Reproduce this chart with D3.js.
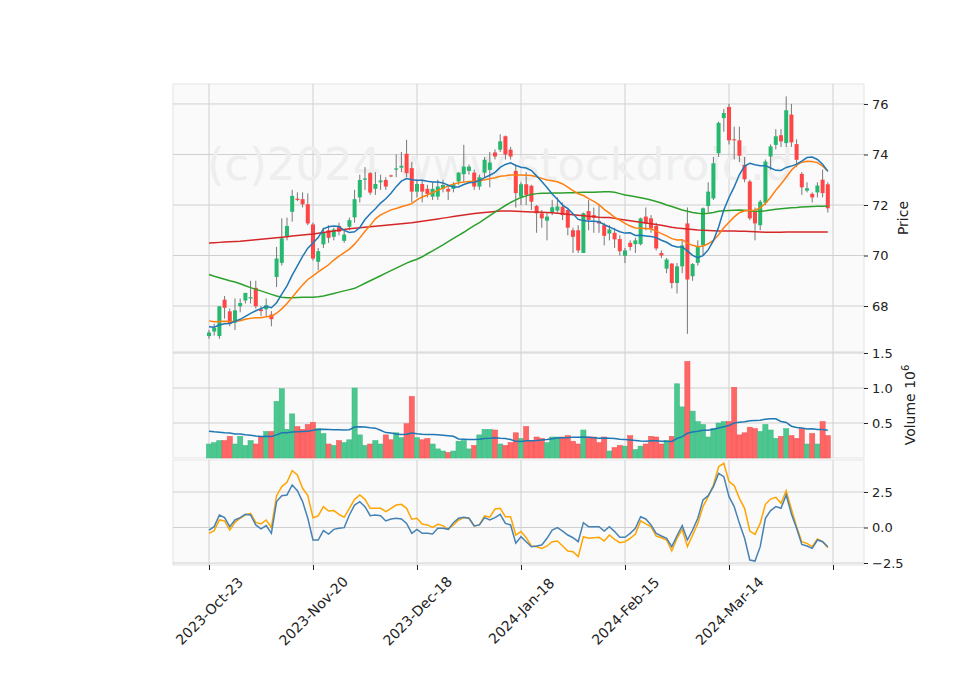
<!DOCTYPE html>
<html>
<head>
<meta charset="utf-8">
<script src="https://cdn.jsdelivr.net/npm/d3@7"></script>
<style>
  body { margin: 0; background: #fff; }
  text { font-family: "DejaVu Sans", sans-serif; }
</style>
</head>
<body>
<div id="chart"></div>
<script>
// candles, one per trading day (open, high, low, close)
const opens = [66.81,66.99,66.81,68.25,67.79,67.34,67.99,68.22,68.3,68.72,
  67.87,67.87,67.66,69.15,69.71,70.74,71.73,72.25,72.23,72.03,
  71.23,69.75,70.44,71.0,70.74,71.17,70.58,71.14,71.51,72.3,
  73.0,73.26,72.64,72.9,72.99,73.17,73.4,73.48,74.03,73.46,
  72.53,72.83,72.64,72.33,72.33,72.64,72.64,72.64,72.93,73.22,
  73.35,73.28,72.73,73.28,73.39,74.08,74.19,74.72,74.19,73.35,
  72.33,72.82,72.76,71.96,71.67,71.38,71.71,71.78,71.93,71.8,
  71.0,71.0,70.1,71.76,71.6,71.36,71.2,70.87,70.9,70.65,
  69.99,70.5,70.45,70.45,71.54,71.47,71.17,70.1,69.48,69.68,
  68.91,69.57,71.27,69.18,69.71,70.41,71.96,72.26,74.05,75.44,
  75.88,74.6,74.56,73.59,72.93,71.74,71.2,72.09,73.92,74.38,
  74.76,74.45,75.58,74.41,73.23,72.57,72.44,72.5,73.0,72.82];
const highs = [67.05,67.3,68.0,68.4,67.9,68.3,68.3,68.5,69.0,69.0,
  68.0,68.3,67.8,70.34,71.47,71.5,72.6,72.5,72.5,72.46,
  71.3,70.3,71.1,71.2,71.1,71.3,71.0,71.5,72.6,73.2,
  73.5,73.3,73.3,73.2,73.1,73.2,74.0,74.1,74.58,73.7,
  73.0,73.0,72.8,72.9,73.0,73.0,72.8,72.9,73.3,74.38,
  73.6,73.4,73.2,73.9,74.1,74.2,74.8,74.75,74.3,73.6,
  72.9,73.3,72.8,72.0,71.8,71.7,72.2,72.3,72.1,71.9,
  71.1,71.2,71.7,72.2,71.9,72.0,71.3,71.2,71.1,70.8,
  70.3,70.6,70.7,71.5,71.9,71.6,71.3,70.2,69.9,69.7,
  69.7,70.6,71.9,69.7,70.6,71.9,72.9,73.9,75.3,75.8,
  76.0,75.1,75.1,73.9,73.0,71.9,72.2,73.8,74.4,75.0,
  75.0,76.3,76.0,74.6,73.3,72.9,72.5,72.9,73.4,72.9];
const lows = [66.7,66.83,66.7,67.5,67.2,67.05,67.75,68.1,68.1,67.9,
  67.6,67.6,67.2,68.75,69.6,70.6,71.34,72.15,71.9,71.2,
  69.8,69.42,70.3,70.5,70.6,70.8,70.5,71.0,71.3,72.1,
  72.6,72.4,72.4,72.6,72.6,73.1,73.1,73.3,73.1,72.1,
  72.3,72.1,72.3,72.2,72.2,72.5,72.2,72.5,72.8,72.9,
  73.2,72.6,72.6,73.1,72.7,73.8,74.1,73.8,73.8,71.9,
  72.0,72.0,71.8,70.9,71.1,70.6,71.6,71.7,71.4,70.8,
  70.1,70.1,70.1,71.0,70.9,70.9,70.4,70.6,70.3,70.0,
  69.7,70.2,70.1,70.4,71.0,70.9,70.2,69.9,69.3,68.7,
  68.5,69.3,66.9,69.0,69.6,70.0,71.7,72.2,73.9,74.9,
  74.4,73.8,73.7,72.9,71.4,70.6,71.0,72.0,73.4,74.2,
  74.3,74.3,74.3,73.5,72.4,72.5,72.1,72.3,72.3,71.7];
const closes = [66.95,67.13,67.99,67.93,67.3,67.83,68.12,68.52,68.35,67.99,
  67.8,68.03,67.48,69.88,70.68,71.17,72.36,72.2,72.03,71.27,
  69.88,70.17,70.91,70.7,71.03,70.94,70.83,71.4,72.23,72.99,
  73.05,72.49,72.83,72.97,72.73,73.13,73.45,73.55,73.26,72.53,
  72.83,72.53,72.44,72.64,72.73,72.79,72.53,72.83,73.28,73.52,
  73.52,72.73,73.1,73.79,73.68,73.92,74.52,74.0,73.92,72.47,
  72.82,72.4,72.13,71.67,71.47,71.54,71.91,71.94,71.6,71.1,
  70.74,70.2,71.67,71.41,71.5,71.27,70.78,71.03,70.64,70.17,
  70.2,70.34,70.6,71.47,71.27,71.07,70.28,70.0,69.84,68.91,
  69.57,70.4,69.05,69.66,70.38,71.87,72.53,73.65,75.25,75.64,
  74.56,74.56,73.95,73.02,71.47,71.27,72.13,73.72,74.32,74.72,
  74.52,75.75,74.48,73.79,72.7,72.66,72.3,72.77,72.47,71.87];
// closes before the first visible day (feed the short averages)
const priorCloses = [67.9,67.7,67.8,67.5,67.6,67.7,67.4,67.6,67.5,67.8,
  67.3,67.1,67.4,67.2,67.0,67.3,67.4,67.1,67.0];

// volume in millions
const volumes = [0.20,0.22,0.25,0.25,0.31,0.20,0.31,0.18,0.25,0.20,
  0.30,0.38,0.38,0.81,0.99,0.41,0.63,0.45,0.41,0.48,
  0.51,0.42,0.35,0.20,0.18,0.25,0.22,0.26,1.00,0.33,
  0.18,0.20,0.25,0.20,0.33,0.26,0.36,0.29,0.49,0.88,
  0.29,0.26,0.28,0.20,0.13,0.10,0.08,0.10,0.24,0.25,
  0.13,0.18,0.33,0.41,0.41,0.40,0.20,0.18,0.22,0.36,
  0.28,0.45,0.25,0.30,0.28,0.22,0.30,0.30,0.30,0.32,
  0.24,0.20,0.40,0.30,0.30,0.22,0.30,0.10,0.15,0.18,
  0.17,0.32,0.12,0.17,0.20,0.31,0.30,0.20,0.25,0.31,
  1.06,0.73,1.38,0.67,0.52,0.48,0.30,0.42,0.50,0.52,
  0.52,1.01,0.33,0.36,0.44,0.42,0.38,0.48,0.40,0.28,
  0.31,0.42,0.32,0.28,0.42,0.20,0.35,0.20,0.52,0.32];
const priorVolumes = [0.40,0.35,0.45,0.38,0.42,0.36,0.40,0.37,0.44,0.39,
  0.35,0.41,0.38,0.40,0.36,0.43,0.39,0.37,0.41];

// slow averages
const ma50 = [69.25,69.18,69.12,69.06,69.0,68.95,68.88,68.8,68.73,68.66,
  68.6,68.53,68.46,68.4,68.35,68.33,68.33,68.34,68.35,68.35,
  68.35,68.37,68.4,68.45,68.5,68.55,68.6,68.65,68.7,68.8,
  68.9,69.0,69.1,69.2,69.3,69.4,69.5,69.6,69.7,69.78,
  69.85,69.95,70.07,70.18,70.3,70.42,70.55,70.68,70.8,70.92,
  71.05,71.18,71.3,71.44,71.58,71.72,71.85,71.98,72.1,72.2,
  72.3,72.36,72.42,72.45,72.46,72.46,72.47,72.47,72.47,72.48,
  72.48,72.49,72.5,72.5,72.5,72.51,72.52,72.52,72.5,72.45,
  72.4,72.37,72.33,72.29,72.25,72.2,72.14,72.08,72.0,71.94,
  71.87,71.8,71.75,71.7,71.67,71.65,71.67,71.7,71.75,71.77,
  71.78,71.79,71.8,71.79,71.77,71.75,71.75,71.77,71.8,71.83,
  71.85,71.87,71.89,71.9,71.92,71.93,71.94,71.95,71.95,71.96];
const ma200 = [70.5,70.51,70.52,70.53,70.54,70.55,70.56,70.58,70.6,70.62,
  70.64,70.66,70.68,70.7,70.72,70.74,70.77,70.79,70.81,70.83,
  70.85,70.88,70.91,70.94,70.97,71.0,71.03,71.06,71.08,71.1,
  71.12,71.14,71.16,71.18,71.2,71.22,71.24,71.26,71.28,71.3,
  71.33,71.36,71.39,71.42,71.45,71.48,71.51,71.54,71.57,71.6,
  71.63,71.66,71.68,71.7,71.72,71.74,71.76,71.76,71.76,71.75,
  71.74,71.73,71.72,71.72,71.71,71.7,71.69,71.67,71.65,71.63,
  71.61,71.59,71.57,71.55,71.53,71.51,71.5,71.5,71.47,71.44,
  71.41,71.38,71.35,71.32,71.29,71.26,71.23,71.2,71.16,71.12,
  71.09,71.07,71.05,71.03,71.01,71.0,70.99,70.98,70.97,70.97,
  70.97,70.97,70.96,70.96,70.95,70.94,70.93,70.92,70.92,70.92,
  70.92,70.93,70.93,70.93,70.93,70.93,70.93,70.93,70.93,70.93];

// lower panel oscillator lines
const oscBlue = [-0.18,0.06,0.88,0.69,0.06,0.53,0.69,0.93,0.88,0.18,
  -0.1,0.13,-0.41,1.82,2.24,2.29,2.99,2.59,1.82,0.65,
  -0.88,-0.88,-0.22,-0.46,-0.13,-0.06,-0.01,0.88,1.58,1.82,
  1.47,0.83,0.88,0.83,0.46,0.6,0.65,0.6,0.29,-0.41,
  -0.13,-0.41,-0.41,-0.46,-0.06,-0.06,-0.13,0.34,0.65,0.72,
  0.65,0.11,0.18,0.69,0.53,0.69,0.93,0.29,0.18,-1.1,
  -0.65,-1.0,-1.35,-1.3,-1.23,-0.76,-0.18,-0.01,-0.25,-0.53,
  -0.72,-1.0,0.34,0.06,0.06,0.06,-0.25,0.06,-0.29,-0.69,
  -0.69,-0.41,-0.06,0.76,0.6,0.18,-0.41,-0.6,-0.76,-1.35,
  -0.58,0.13,-0.88,-0.18,0.65,1.94,2.24,2.88,3.81,3.58,
  2.17,1.47,0.29,-0.76,-2.29,-2.36,-1.35,0.65,1.19,1.47,
  1.35,2.29,0.95,-0.06,-1.19,-1.3,-1.47,-0.88,-1.0,-1.35];
const oscOrange = [-0.41,-0.22,0.53,0.46,-0.18,0.36,0.65,0.88,1.0,0.36,
  0.25,0.53,0.0,2.24,2.88,3.18,4.0,3.7,2.76,2.24,
  0.69,0.81,1.47,1.16,1.19,0.93,0.72,1.35,1.98,2.29,
  1.98,1.35,1.35,1.35,1.12,1.35,1.58,1.63,1.35,0.58,
  0.65,0.25,0.18,0.01,0.22,0.13,-0.13,0.18,0.53,0.69,
  0.65,0.11,0.18,0.81,0.72,1.3,1.35,0.76,0.76,-0.53,
  -0.29,-0.72,-1.3,-1.35,-1.47,-1.3,-1.0,-0.95,-1.3,-1.65,
  -1.7,-2.05,-0.65,-0.76,-0.72,-0.69,-0.95,-0.53,-0.83,-1.07,
  -1.0,-0.76,-0.46,0.46,0.25,0.06,-0.6,-0.72,-0.88,-1.65,
  -0.76,-0.13,-1.35,-0.53,0.29,1.47,2.17,2.99,4.28,4.52,
  3.23,2.95,2.05,1.35,-0.25,-0.48,0.29,1.63,2.0,2.12,
  1.7,2.59,1.28,0.06,-1.0,-1.12,-1.35,-0.81,-1.0,-1.42];

const tickIdx = [0, 20, 40, 60, 80, 100, 120];
const tickLabels = ["2023-Oct-23", "2023-Nov-20", "2023-Dec-18", "2024-Jan-18", "2024-Feb-15", "2024-Mar-14", ""];
const priceTicks = [68, 70, 72, 74, 76];
const volTicks = [0.5, 1.0, 1.5];
const oscTicks = [-2.5, 0.0, 2.5];

const W = 960, H = 690;
const left = 173, right = 864;
const panels = {
  price: { top: 84, bottom: 352 },
  vol: { top: 352, bottom: 458 },
  osc: { top: 460, bottom: 565 }
};

const svg = d3.select("#chart").append("svg").attr("width", W).attr("height", H);

const x = d3.scaleLinear().domain([-6.92, 125.96]).range([left, right]);
const yP = d3.scaleLinear().domain([66.18, 76.79]).range([panels.price.bottom, panels.price.top]);
const yV = d3.scaleLinear().domain([0, 1.514]).range([panels.vol.bottom, panels.vol.top]);
const yO = d3.scaleLinear().domain([-2.64, 4.75]).range([panels.osc.bottom, panels.osc.top]);

function sma(vals, prior, n) {
  const all = prior.concat(vals);
  return vals.map((_, i) => {
    const j = i + prior.length;
    return d3.mean(all.slice(Math.max(0, j - n + 1), j + 1));
  });
}
const ma10 = sma(closes, priorCloses, 10);
const ma20 = sma(closes, priorCloses, 20);
const volMa = sma(volumes, priorVolumes, 20);

const idx = d3.range(closes.length);
const up = i => closes[i] >= opens[i];

// panel backgrounds + grids
function panel(p, yScale, ticks, fmt) {
  const g = svg.append("g");
  g.append("rect").attr("x", left).attr("y", p.top)
    .attr("width", right - left).attr("height", p.bottom - p.top)
    .attr("fill", "#fafafa").attr("stroke", "#e4e4e4");
  g.selectAll(".vg").data(tickIdx).enter().append("line")
    .attr("x1", d => x(d)).attr("x2", d => x(d))
    .attr("y1", p.top).attr("y2", p.bottom)
    .attr("stroke", "#d0d0d0").attr("stroke-width", 1);
  g.selectAll(".hg").data(ticks).enter().append("line")
    .attr("x1", left).attr("x2", right)
    .attr("y1", d => yScale(d)).attr("y2", d => yScale(d))
    .attr("stroke", "#d0d0d0").attr("stroke-width", 1);
  const ax = d3.axisRight(yScale).tickValues(ticks).tickFormat(fmt).tickSize(4).tickPadding(4);
  const a = svg.append("g").attr("transform", `translate(${right},0)`).call(ax);
  a.select(".domain").remove();
  a.selectAll("text").attr("font-size", 13).attr("fill", "#222");
  a.selectAll("line").attr("stroke", "#222");
}
panel(panels.price, yP, priceTicks, d3.format("d"));
panel(panels.vol, yV, volTicks, d3.format(".1f"));
panel(panels.osc, yO, oscTicks, d => d === 0 ? "0.0" : (d < 0 ? "\u2212" + Math.abs(d).toFixed(1) : d.toFixed(1)));

// watermark
svg.append("clipPath").attr("id", "pclip").append("rect")
  .attr("x", left).attr("y", panels.price.top).attr("width", right - left).attr("height", panels.price.bottom - panels.price.top);
svg.append("text").attr("x", 207).attr("y", 180)
  .attr("font-size", 45).attr("fill", "#eeeeee")
  .attr("clip-path", "url(#pclip)")
  .text("(c)2024 www.stockdroid.d");

// candles
const pc = svg.append("g").attr("clip-path", "url(#pclip)");
pc.selectAll(".wick").data(idx).enter().append("line")
  .attr("x1", i => x(i)).attr("x2", i => x(i))
  .attr("y1", i => yP(highs[i])).attr("y2", i => yP(lows[i]))
  .attr("stroke", "#555").attr("stroke-width", 0.8);
pc.selectAll(".body").data(idx).enter().append("rect")
  .attr("x", i => x(i) - 2).attr("width", 4)
  .attr("y", i => yP(Math.max(opens[i], closes[i])))
  .attr("height", i => Math.max(1, Math.abs(yP(opens[i]) - yP(closes[i]))))
  .attr("fill", i => up(i) ? "#26b86e" : "#ff4545");

const line = (yS, arr) => d3.line().x((d, i) => x(i)).y(d => yS(d))(arr);
[[ma200, "#d62728"], [ma50, "#2ca02c"], [ma20, "#ff7f0e"], [ma10, "#1f77b4"]].forEach(([arr, c]) => {
  pc.append("path").attr("d", line(yP, arr)).attr("fill", "none")
    .attr("stroke", c).attr("stroke-width", 1.5);
});

// volume
svg.append("g").selectAll("rect").data(idx).enter().append("rect")
  .attr("x", i => x(i) - 2.6).attr("width", 5.2)
  .attr("y", i => yV(volumes[i])).attr("height", i => yV(0) - yV(volumes[i]))
  .attr("fill", i => up(i) ? "#4cc790" : "#ff6666")
  .attr("stroke", i => up(i) ? "#3dbb82" : "#f05555").attr("stroke-width", 0.5);
svg.append("path").attr("d", line(yV, volMa)).attr("fill", "none")
  .attr("stroke", "#1f77b4").attr("stroke-width", 1.5);

// oscillator
svg.append("path").attr("d", line(yO, oscOrange)).attr("fill", "none")
  .attr("stroke", "orange").attr("stroke-width", 1.5);
svg.append("path").attr("d", line(yO, oscBlue)).attr("fill", "none")
  .attr("stroke", "steelblue").attr("stroke-width", 1.5);

// x axis
const xa = svg.append("g").attr("transform", `translate(0,${panels.osc.bottom})`)
  .call(d3.axisBottom(x).tickValues(tickIdx).tickFormat((d, i) => tickLabels[i]).tickSize(5).tickPadding(3));
xa.select(".domain").remove();
xa.selectAll("line").attr("stroke", "#222");
xa.selectAll("text").attr("font-size", 14).attr("fill", "#222")
  .attr("text-anchor", "middle").attr("x", 0).attr("y", 0).attr("dy", "0.35em")
  .attr("transform", "translate(0,46) rotate(-45)");

// axis titles
svg.append("text").attr("transform", "translate(908,218) rotate(-90)")
  .attr("text-anchor", "middle").attr("font-size", 14).attr("fill", "#222").text("Price");
const vt = svg.append("text").attr("transform", "translate(915,405) rotate(-90)")
  .attr("text-anchor", "middle").attr("font-size", 14).attr("fill", "#222");
vt.append("tspan").text("Volume  10");
vt.append("tspan").attr("font-size", 10).attr("dy", -6).text("6");
</script>
</body>
</html>
